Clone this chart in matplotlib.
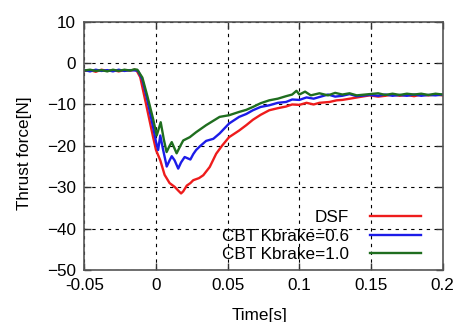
import matplotlib
matplotlib.use("Agg")
import matplotlib.pyplot as plt

# ---- data ----
t_dsf = [-0.05, -0.046, -0.042, -0.038, -0.034, -0.03, -0.026, -0.022, -0.018, -0.015,
         -0.0135, -0.011, -0.0065, -0.002, 0.0, 0.003, 0.006, 0.0095, 0.013, 0.0155,
         0.0175, 0.019, 0.0215, 0.024, 0.026, 0.03, 0.033, 0.0375, 0.042, 0.046,
         0.051, 0.058, 0.063, 0.0676, 0.073, 0.079, 0.085, 0.0907, 0.095, 0.1,
         0.105, 0.11, 0.114, 0.121, 0.126, 0.13, 0.137, 0.142, 0.149, 0.155,
         0.16, 0.165, 0.17, 0.175, 0.18, 0.185, 0.19, 0.195, 0.2]
f_dsf = [-1.9, -1.7, -2.1, -1.6, -1.9, -1.7, -2.0, -1.7, -1.8, -1.6,
         -1.8, -3.4, -10.6, -17.9, -21.0, -23.5, -27.0, -29.0, -29.9, -30.8,
         -31.5, -31.0, -29.6, -29.0, -28.3, -27.8, -27.1, -25.1, -21.9, -20.0,
         -17.9, -16.3, -15.0, -13.7, -12.5, -11.4, -10.9, -10.5, -10.0, -10.1,
         -9.6, -10.0, -9.6, -9.4, -9.0, -8.9, -8.5, -8.2, -7.8, -8.1,
         -7.9, -7.6, -7.9, -7.7, -8.0, -7.6, -7.8, -7.6, -7.8]

t_k06 = [-0.05, -0.046, -0.042, -0.038, -0.034, -0.03, -0.026, -0.022, -0.018, -0.014,
         -0.0125, -0.0095, -0.006, -0.002, 0.0, 0.0015, 0.003, 0.005, 0.0075, 0.0095,
         0.011, 0.013, 0.0155, 0.0175, 0.02, 0.022, 0.024, 0.026, 0.028, 0.031,
         0.035, 0.04, 0.0444, 0.051, 0.058, 0.063, 0.0676, 0.073, 0.079, 0.085,
         0.0907, 0.095, 0.1, 0.105, 0.11, 0.114, 0.12, 0.125, 0.13, 0.135,
         0.14, 0.149, 0.155, 0.16, 0.165, 0.17, 0.175, 0.18, 0.185, 0.19, 0.195, 0.2]
f_k06 = [-1.7, -2.0, -1.6, -1.9, -1.7, -2.0, -1.6, -1.9, -1.7, -1.8,
         -1.9, -4.0, -9.0, -15.5, -19.0, -21.0, -17.5, -21.0, -25.0, -23.5,
         -22.5, -23.5, -25.5, -24.0, -22.7, -23.0, -23.3, -22.0, -21.0, -20.0,
         -18.8, -18.3, -17.0, -14.6, -13.0, -12.3, -11.4, -10.6, -10.2, -9.6,
         -9.4, -8.8, -8.9, -8.3, -8.6, -8.2, -7.6, -8.1, -7.9, -7.5,
         -8.0, -7.7, -7.9, -7.6, -7.9, -7.7, -7.9, -7.6, -7.9, -7.7, -7.8, -7.6]

t_k10 = [-0.05, -0.046, -0.042, -0.038, -0.034, -0.03, -0.026, -0.022, -0.018, -0.015,
         -0.013, -0.0095, -0.006, -0.002, 0.0005, 0.0033, 0.0055, 0.0074, 0.0095, 0.011,
         0.0144, 0.017, 0.019, 0.0236, 0.028, 0.035, 0.0444, 0.051, 0.058, 0.063,
         0.0676, 0.073, 0.079, 0.085, 0.0907, 0.095, 0.098, 0.1, 0.104, 0.108,
         0.114, 0.12, 0.125, 0.13, 0.135, 0.14, 0.149, 0.155, 0.16, 0.165,
         0.17, 0.175, 0.18, 0.185, 0.19, 0.195, 0.2]
f_k10 = [-1.8, -1.6, -1.9, -1.7, -2.0, -1.6, -1.9, -1.6, -1.8, -1.5,
         -1.6, -3.5, -8.0, -13.5, -17.5, -14.3, -18.5, -21.5, -20.0, -19.1,
         -21.8, -20.0, -18.7, -17.9, -16.7, -15.0, -13.0, -12.6, -11.8, -11.3,
         -10.6, -9.7, -9.0, -8.6, -8.0, -7.6, -6.7, -7.6, -6.9, -7.8,
         -7.3, -7.8, -7.2, -7.6, -7.3, -7.8, -7.5, -7.3, -7.7, -7.4,
         -7.7, -7.4, -7.6, -7.4, -7.7, -7.4, -7.6]

labels = ["DSF", "CBT Kbrake=0.6", "CBT Kbrake=1.0"]
colors = ["#ee1c1c", "#1c1ce8", "#1f6e1f"]

xticks = [-0.05, 0, 0.05, 0.1, 0.15, 0.2]
xticklabels = ["-0.05", "0", "0.05", "0.1", "0.15", "0.2"]
yticks = [-50, -40, -30, -20, -10, 0, 10]

plt.rcParams['font.family'] = ['Liberation Sans', 'DejaVu Sans']
FS = 12.3

fig = plt.figure(figsize=(4.59, 3.22), dpi=100)
W, H = 459, 322
l, r, top, bot = 84.3, 442.7, 21.7, 270.0
ax = fig.add_axes([l / W, 1 - bot / H, (r - l) / W, (bot - top) / H])

for t, f, lab, c in zip([t_dsf, t_k06, t_k10], [f_dsf, f_k06, f_k10], labels, colors):
    ax.plot(t, f, color=c, lw=1.7, label=lab)

ax.set_xlim(-0.05, 0.2)
ax.set_ylim(-50, 10)
ax.set_xticks(xticks)
ax.set_xticklabels(xticklabels)
ax.set_yticks(yticks)
ax.tick_params(direction='in', length=5, width=1, colors='#333333', labelcolor='black',
               labelsize=FS, top=True, right=True, pad=6)
ax.grid(True, color='black', lw=0.8, linestyle=(0, (3, 4)))
for s in ax.spines.values():
    s.set_color('#555555')
    s.set_linewidth(1.2)

ax.set_xlabel("Time[s]", fontsize=FS)
ax.set_ylabel("Thrust force[N]", fontsize=FS)
ax.xaxis.set_label_coords(0.49, (bot - 308) / (bot - top))
ax.yaxis.set_label_coords((32 - l) / (r - l), (bot - 153) / (bot - top))

leg = ax.legend(loc='lower right', bbox_to_anchor=(421 / W, 1 - 262 / H),
                bbox_transform=fig.transFigure, frameon=False, markerfirst=False,
                fontsize=FS, handlelength=3.0, handletextpad=1.2,
                labelspacing=0.2, borderpad=0, borderaxespad=0)

fig.savefig("out.png", dpi=100)
